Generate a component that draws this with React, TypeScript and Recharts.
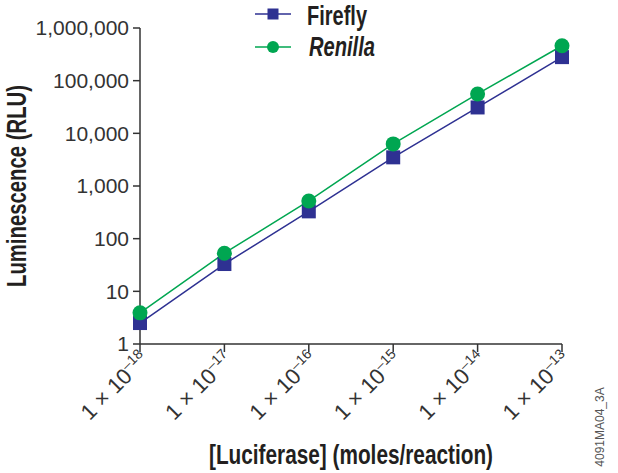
import React from 'react';
import { LineChart, Line, XAxis, YAxis, Legend } from 'recharts';

// exponents of the luciferase amount (1 × 10^n moles/reaction)
const exponents = [-18, -17, -16, -15, -14, -13];
const firefly = [2.5, 33, 330, 3500, 31000, 280000];
const renilla = [3.9, 53, 520, 6300, 56000, 460000];
const yTicks = [1, 10, 100, 1000, 10000, 100000, 1000000];

const BLUE = '#2e3192';
const GREEN = '#00a651';
const AXIS = '#333333';
const BOLD = "'Liberation Sans', Arial, sans-serif";
const LIGHT = "'Liberation Sans', Arial, sans-serif";

const data = exponents.map((e, i) => ({ x: e, firefly: firefly[i], renilla: renilla[i] }));

const SquareDot = (props: any) => {
  const { cx, cy, index } = props;
  if (cx == null || cy == null) return <g key={index} />;
  return <rect key={index} x={cx - 7} y={cy - 7} width={14} height={14} fill={BLUE} />;
};

const CircleDot = (props: any) => {
  const { cx, cy, index } = props;
  if (cx == null || cy == null) return <g key={index} />;
  return <circle key={index} cx={cx} cy={cy} r={7.5} fill={GREEN} />;
};

const XTick = (props: any) => {
  const { x, y, payload } = props;
  return (
    <g transform={`translate(${x + 10},${y + 7})`}>
      <text transform="rotate(-45)" textAnchor="end" fontFamily={LIGHT} fontSize={22} fill={AXIS}>
        <tspan>1 × 10</tspan>
        <tspan dy={-9} fontSize={14}>{`–${Math.abs(payload.value)}`}</tspan>
      </text>
    </g>
  );
};

const LegendContent = () => (
  <svg width={618} height={64}>
    <line x1={255} x2={291} y1={14} y2={14} stroke={BLUE} strokeWidth={1.5} />
    <rect x={267.5} y={8.5} width={11} height={11} fill={BLUE} />
    <text x={307} y={25} fontFamily={BOLD} fontWeight="bold" fontSize={28} fill="#231f20"
      textLength={60} lengthAdjust="spacingAndGlyphs">Firefly</text>
    <line x1={255} x2={291} y1={47} y2={47} stroke={GREEN} strokeWidth={1.5} />
    <circle cx={273} cy={47} r={6} fill={GREEN} />
    <text x={309} y={56} fontFamily={BOLD} fontWeight="bold" fontStyle="italic" fontSize={27} fill="#231f20"
      textLength={66} lengthAdjust="spacingAndGlyphs">Renilla</text>
  </svg>
);

export default function App() {
  return (
    <div style={{ position: 'absolute', left: 0, top: 0, width: 618, height: 473, background: '#fff' }}>
      <LineChart width={618} height={473} data={data} margin={{ top: 28, right: 56, bottom: 0, left: 0 }}>
        <XAxis
          dataKey="x"
          type="number"
          domain={[-18, -13]}
          ticks={exponents}
          height={129}
          stroke={AXIS}
          strokeWidth={1.5}
          tickSize={8}
          tick={<XTick />}
          label={{
            content: () => (
              <text x={351} y={464} textAnchor="middle" fontFamily={BOLD} fontWeight="bold" fontSize={27} fill="#231f20"
                textLength={284} lengthAdjust="spacingAndGlyphs">
                [Luciferase] (moles/reaction)
              </text>
            ),
          }}
        />
        <YAxis
          scale="log"
          domain={[1, 1000000]}
          ticks={yTicks}
          allowDataOverflow
          width={140}
          stroke={AXIS}
          strokeWidth={1.5}
          tickSize={7}
          tickMargin={4}
          tick={{ fontFamily: LIGHT, fontSize: 21, fill: AXIS }}
          tickFormatter={(v: number) => v.toLocaleString('en-US')}
          label={{
            content: () => (
              <text x={26} y={186} transform="rotate(-90, 26, 186)" textAnchor="middle" fontFamily={BOLD} fontWeight="bold" fontSize={27} fill="#231f20"
                textLength={202} lengthAdjust="spacingAndGlyphs">
                Luminescence (RLU)
              </text>
            ),
          }}
        />
        <Legend
          layout="vertical"
          verticalAlign="middle"
          align="center"
          wrapperStyle={{ position: 'absolute', left: 0, top: 0, width: 618, height: 64 }}
          content={<LegendContent />}
        />
        <Line dataKey="firefly" stroke={BLUE} strokeWidth={1.5} dot={SquareDot} isAnimationActive={false} />
        <Line dataKey="renilla" stroke={GREEN} strokeWidth={1.5} dot={CircleDot} isAnimationActive={false} />
      </LineChart>
      <div
        style={{
          position: 'absolute', left: 600, top: 427, fontFamily: LIGHT, fontSize: 12, color: '#555',
          transform: 'translate(-50%, -50%) rotate(-90deg)', whiteSpace: 'nowrap',
        }}
      >
        4091MA04_3A
      </div>
    </div>
  );
}
